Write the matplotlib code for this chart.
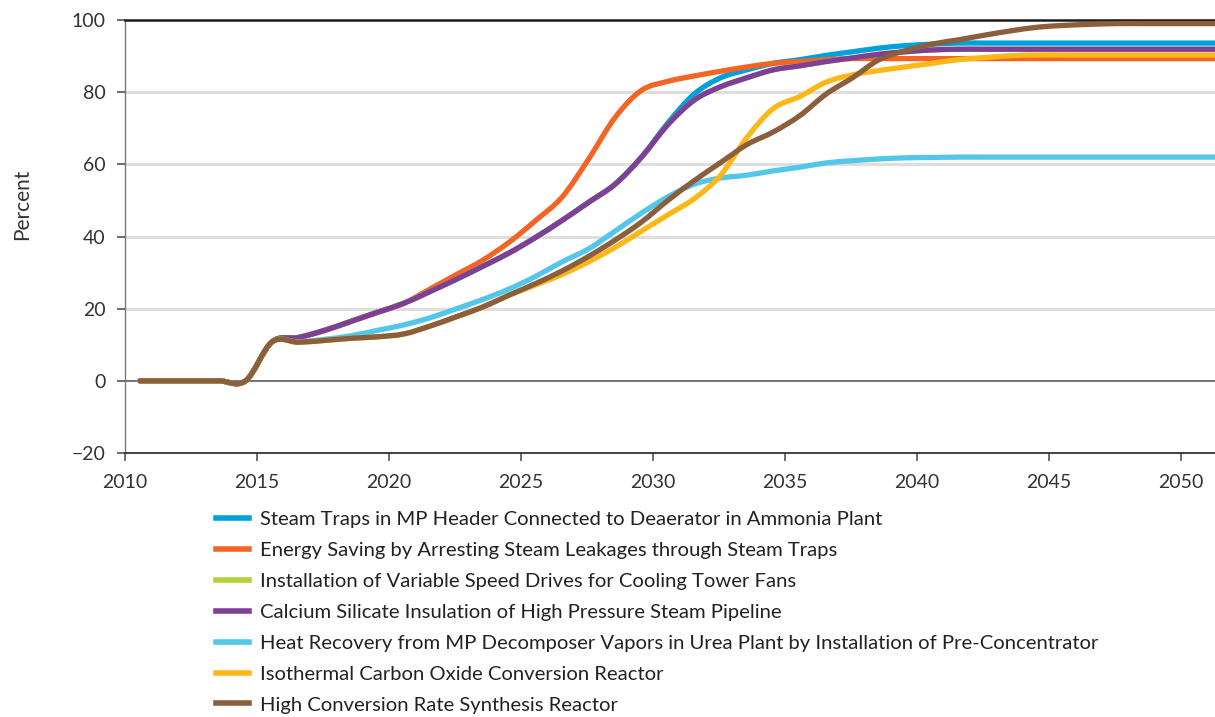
import numpy as np
import matplotlib
matplotlib.use('Agg')
import matplotlib.pyplot as plt
from matplotlib.path import Path
from matplotlib.patches import PathPatch
from matplotlib.lines import Line2D

plt.rcParams['font.family'] = ['Lato', 'DejaVu Sans']

# annual values, 2011 .. 2052
years = list(range(2011, 2053))
start = [0, 0, 0, 0, 0]

steam_traps_mp = start + [10.8, 12.0, 14.0, 16.5, 19.0, 21.5, 24.8, 28.2, 31.8, 35.5, 39.8, 44.5,
                          49.5, 54.5, 62.0, 71.5, 79.5, 84.0, 86.2, 88.0, 89.0, 90.2, 91.2, 92.2,
                          92.9, 93.3, 93.6] + [93.6] * 10
steam_leakages = start + [10.8, 12.0, 14.0, 16.5, 19.0, 21.5, 25.5, 29.5, 33.5, 38.5, 44.5, 51.0,
                          61.5, 73.0, 80.5, 83.0, 84.5, 85.8, 87.0, 88.0, 88.5, 89.0, 89.3, 89.3,
                          89.3, 89.3, 89.3] + [89.3] * 10
vsd_fans = start + [10.8, 12.0, 14.0, 16.5, 19.0, 21.5, 24.8, 28.2, 31.8, 35.5, 39.8, 44.5,
                    49.5, 54.5, 62.0, 71.0, 77.8, 81.5, 84.0, 86.2, 87.3, 88.5, 89.5, 90.5,
                    91.2, 91.7, 91.9] + [91.9] * 10
calcium_silicate = start + [10.8, 12.0, 14.0, 16.5, 19.0, 21.5, 24.8, 28.2, 31.8, 35.5, 39.8, 44.5,
                            49.5, 54.5, 62.0, 71.0, 77.8, 81.5, 84.0, 86.2, 87.3, 88.5, 89.5, 90.5,
                            91.2, 91.7, 91.9] + [91.9] * 10
heat_recovery = start + [10.8, 10.8, 11.5, 12.5, 14.0, 15.5, 17.5, 20.0, 22.6, 25.5, 29.0, 33.0,
                         36.6, 41.5, 46.5, 51.0, 54.5, 56.2, 57.0, 58.2, 59.2, 60.4, 61.0, 61.5,
                         61.8, 61.9, 62.0] + [62.0] * 10
isothermal = start + [10.8, 10.7, 11.2, 11.8, 12.2, 13.0, 15.2, 17.8, 20.5, 23.8, 26.6, 29.5,
                      33.0, 37.0, 41.5, 46.0, 50.5, 57.0, 67.5, 75.5, 78.8, 82.8, 84.8, 86.0,
                      87.0, 88.0, 89.0, 89.6, 90.1, 90.3] + [90.3] * 7
synthesis = start + [10.8, 10.7, 11.2, 11.8, 12.2, 13.0, 15.2, 17.8, 20.5, 23.8, 27.0, 30.5,
                     34.5, 39.0, 44.0, 50.0, 55.5, 60.5, 65.5, 69.0, 73.5, 79.5, 84.0, 89.0,
                     91.5, 93.3, 94.5, 95.8, 97.0, 98.0, 98.5, 98.8, 99.0] + [99.0] * 4

labels = ['Steam Traps in MP Header Connected to Deaerator in Ammonia Plant',
          'Energy Saving by Arresting Steam Leakages through Steam Traps',
          'Installation of Variable Speed Drives for Cooling Tower Fans',
          'Calcium Silicate Insulation of High Pressure Steam Pipeline',
          'Heat Recovery from MP Decomposer Vapors in Urea Plant by Installation of Pre-Concentrator',
          'Isothermal Carbon Oxide Conversion Reactor',
          'High Conversion Rate Synthesis Reactor']
series = [steam_traps_mp, steam_leakages, vsd_fans, calcium_silicate,
          heat_recovery, isothermal, synthesis]
colors = ['#00A1DA', '#F26524', '#B2D235', '#7E3F98', '#52C7E9', '#FDB817', '#8B5E3C']


def smooth_path(x, y):
    # smoothed line like the spreadsheet one: bezier segment through each point
    pts = np.column_stack([np.asarray(x, float), np.asarray(y, float)])
    ext = np.vstack([pts[0], pts, pts[-1]])
    verts = [pts[0]]
    codes = [Path.MOVETO]
    for i in range(len(pts) - 1):
        p0, p1, p2, p3 = ext[i], ext[i + 1], ext[i + 2], ext[i + 3]
        verts += [p1 + (p2 - p0) / 6, p2 - (p3 - p1) / 6, p2]
        codes += [Path.CURVE4] * 3
    return Path(verts, codes)


fig = plt.figure(figsize=(12.15, 7.17), dpi=100)
ax = fig.add_axes([125 / 1215, 1 - 453 / 717, 1 - 125 / 1215, 433 / 717])

x = np.array(years) - 0.43
for y in [20, 40, 60, 80]:
    ax.axhline(y, color='#DEDEDE', lw=2.2, zorder=1)
ax.axhline(0, color='#5A5A5A', lw=1.2, zorder=1)

lw = 3.8
for vals, c in zip(series, colors):
    ax.add_patch(PathPatch(smooth_path(x, vals), fill=False, edgecolor=c, lw=lw,
                           capstyle='round', joinstyle='round', zorder=3))

ax.set_xlim(2010, 2051.3)
ax.set_ylim(-20, 100)
ax.set_xticks(range(2010, 2051, 5))
ax.set_yticks(range(-20, 101, 20))
ax.set_yticklabels(['\u221220', '0', '20', '40', '60', '80', '100'])

ax.spines['right'].set_visible(False)
ax.spines['top'].set_color('#1A1A1A')
ax.spines['top'].set_linewidth(1.8)
ax.spines['bottom'].set_color('#333333')
ax.spines['bottom'].set_linewidth(1.3)
ax.spines['left'].set_color('#777777')
ax.spines['left'].set_linewidth(1.0)

ax.tick_params(axis='both', direction='out', length=6, width=1.1, color='#444444',
               labelsize=14, labelcolor='#333333')
ax.tick_params(axis='x', pad=9)
ax.tick_params(axis='y', pad=8)

fig.text(22 / 1215, 1 - 204 / 717, 'Percent', rotation=90, ha='center', va='center',
         fontsize=15, color='#333333')

handles = [Line2D([], [], color=c, lw=4) for c in colors]
fig.legend(handles, labels, loc='upper left', bbox_to_anchor=(216 / 1215, 1 - 510.5 / 717),
           frameon=False, fontsize=14.6, handlelength=1.65, handletextpad=0.52,
           labelspacing=0.68, borderaxespad=0, borderpad=0, labelcolor='#222222')

fig.savefig('out.png', dpi=100)
